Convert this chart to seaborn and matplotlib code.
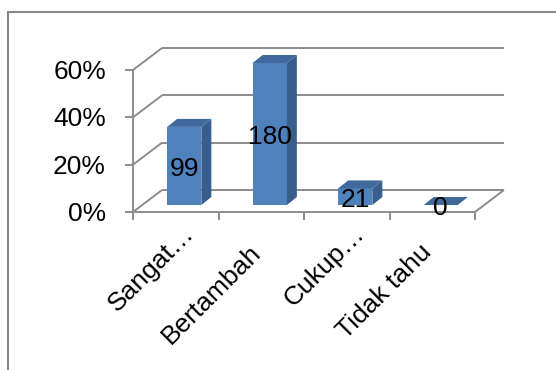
import matplotlib
matplotlib.use("Agg")
import matplotlib.pyplot as plt
from matplotlib.patches import Polygon
from matplotlib.lines import Line2D
import numpy as np
import pandas as pd
import seaborn as sns

# Survey answers: respondent counts per category
categories = ["Sangat…", "Bertambah", "Cukup…", "Tidak tahu"]
counts = [99, 180, 21, 0]
y_ticks = [0.0, 0.2, 0.4, 0.6]
y_tick_labels = ["0%", "20%", "40%", "60%"]

total = sum(counts)
shares = [c / total for c in counts]

sns.set_theme(style="white")
plt.rcParams["font.family"] = ["Liberation Sans", "DejaVu Sans"]

DPI = 100
W, H = 556, 370
fig = plt.figure(figsize=(W / DPI, H / DPI), dpi=DPI)

# front plane of the 3-D box, in pixel terms
left_px, right_px, base_px, top_px = 133, 475, 212, 70
ax = fig.add_axes([left_px / W, (H - base_px) / H,
                   (right_px - left_px) / W, (base_px - top_px) / H])
ax.set_facecolor("none")
ax.patch.set_alpha(0)

df = pd.DataFrame({"kategori": categories, "persen": shares})
sns.barplot(data=df, x="kategori", y="persen", width=0.4, color="#4F81BD",
            saturation=1, ax=ax, zorder=3)
ax.set_xlim(-0.5, len(categories) - 0.5)
ax.set_ylim(0, 0.6)

grid_c = "#8C8C8C"
lw = 1.4
FS = 19

# depth of the box and of each bar (pixels, x right / y up)
box_d = np.array([29.0, 22.0])
bar_off = np.array([8.5, 7.0])
bar_d = np.array([10.0, 8.0])

to_px = ax.transData.transform
ident = dict(transform=None)

def pline(p0, p1, **kw):
    fig.add_artist(Line2D([p0[0], p1[0]], [p0[1], p1[1]], color=grid_c,
                          lw=lw, solid_capstyle="butt", zorder=1, **ident, **kw))

x0, x1 = ax.get_xlim()
for v in y_ticks:
    a = to_px((x0, v))
    b = to_px((x1, v))
    # back wall line
    pline(a + box_d, b + box_d)
    # side wall diagonal
    pline(a, a + box_d)
    # tick mark on the left
    pline(a - np.array([8, 0]), a)

# floor front edge and right diagonal
a0 = to_px((x0, 0))
b0 = to_px((x1, 0))
pline(a0, b0)
pline(b0, b0 + box_d)
# vertical axis line
pline(a0, to_px((x0, 0.6)))
# category separator ticks below the floor
for k in range(len(categories) + 1):
    p = to_px((x0 + k, 0))
    pline(p, p - np.array([0, 8]))

# extrude each seaborn bar into a 3-D block
front_c, side_c, top_c = "#4F81BD", "#385E8C", "#41699B"
for patch in ax.patches:
    bx, bw, bh = patch.get_x(), patch.get_width(), patch.get_height()
    p00 = to_px((bx, 0)) + bar_off
    p10 = to_px((bx + bw, 0)) + bar_off
    p01 = to_px((bx, bh)) + bar_off
    p11 = to_px((bx + bw, bh)) + bar_off
    patch.set_visible(False)
    if bh > 0:
        fig.add_artist(Polygon([p00, p10, p11, p01], closed=True,
                               facecolor=front_c, edgecolor="none", zorder=3, **ident))
        fig.add_artist(Polygon([p10, p10 + bar_d, p11 + bar_d, p11], closed=True,
                               facecolor=side_c, edgecolor="none", zorder=3, **ident))
    fig.add_artist(Polygon([p01, p11, p11 + bar_d, p01 + bar_d], closed=True,
                           facecolor=top_c, edgecolor="none", zorder=3, **ident))

# value labels
for i, (c, s) in enumerate(zip(counts, shares)):
    p = to_px((i, s / 2)) + bar_off + np.array([0, -3])
    fig.text(p[0] / W, p[1] / H, str(c), ha="center", va="center",
             fontsize=FS, color="black", zorder=5)

# y tick labels
for v, lab in zip(y_ticks, y_tick_labels):
    p = to_px((x0, v))
    fig.text((p[0] - 27) / W, (p[1] - 2) / H, lab, ha="right", va="center",
             fontsize=FS, color="black")

# rotated category labels; shortened names sit further along the diagonal
for i, lab in enumerate(categories):
    p = to_px((i, 0)) + np.array([-4.5, -36.5])
    if lab.endswith("…"):
        p = p + np.array([19.0, 19.0])
    fig.text(p[0] / W, p[1] / H, lab, ha="right", va="center",
             rotation=45, rotation_mode="anchor", fontsize=FS, color="black")

ax.set_xticks([])
ax.set_yticks([])
ax.set_xlabel("")
ax.set_ylabel("")
for s in ax.spines.values():
    s.set_visible(False)

# chart frame (left and top edges)
frame_c = "#868686"
fig.add_artist(Line2D([7.5, 7.5], [0, H - 12], color=frame_c, lw=1.5, **ident))
fig.add_artist(Line2D([7.5, W], [H - 12, H - 12], color=frame_c, lw=1.5, **ident))

fig.savefig("out.png", dpi=DPI, facecolor="white")
